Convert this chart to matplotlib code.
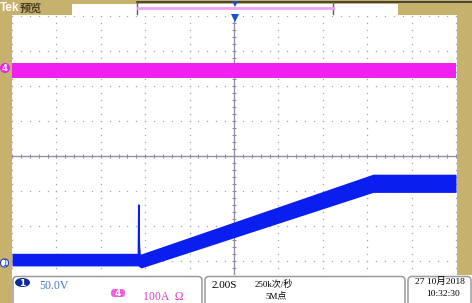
import numpy as np
import matplotlib.pyplot as plt
from matplotlib.patches import Rectangle, FancyBboxPatch, Ellipse

# ---- data (2 s/div, CH1 50 V/div, CH4 100 A/div) ----
ch1_t = [-10.0, -4.32, -4.19, 6.26, 10.0]      # s
ch1_v = [2.0, 2.0, 0.0, 111.0, 111.0]          # V (trace centre)
ch1_hw = [9.0, 9.0, 10.0, 13.0, 13.0]          # V (noise half width)
spike_t = [-4.31, -4.29, -4.28, -4.26, -4.23, -4.19]
spike_v = [2.0, 80.0, 45.0, 22.0, 8.0, -4.0]

ch4_t = [-10.0, 10.0]                          # s
ch4_i = [-5.0, -5.0]                           # A
ch4_hw = [22.0, 22.0]

ch1_scale, ch1_pos = 50.0, -3.0                # V/div, div
ch4_scale, ch4_pos = 100.0, 2.5                # A/div, div

gold = "#c6b26c"
grid_c = "#a4a4b8"
blue = "#0a1ef0"
mag = "#f020f0"

W, H = 472, 303
fig = plt.figure(figsize=(W / 100, H / 100), dpi=100)
fig.patch.set_facecolor("white")

# graticule: x 12..456 px, y 16..296 px
ax = fig.add_axes([12 / W, (H - 296) / H, 444 / W, 280 / H])
ax.set_xlim(-10, 10)
ax.set_ylim(-4, 4)
ax.axis("off")

# dotted grid
for gx in np.arange(-10, 10.1, 2):
    if gx == 0:
        continue
    yy = np.arange(-4, 4.01, 0.2)
    ax.plot(np.full_like(yy, gx), yy, ls="none", marker="s", ms=0.9, color=grid_c, mew=0)
for gy in np.arange(-4, 4.1, 1):
    if gy == 0:
        continue
    xx = np.arange(-10, 10.01, 0.4)
    ax.plot(xx, np.full_like(xx, gy), ls="none", marker="s", ms=0.9, color=grid_c, mew=0)
ax.axhline(0, color="#8c8ca4", lw=0.9)
ax.axvline(0, color="#8c8ca4", lw=0.9)
xx = np.arange(-10, 10.01, 0.4)
ax.plot(xx, np.zeros_like(xx), ls="none", marker="|", ms=3, color="#8c8ca4", mew=0.8)
yy = np.arange(-4, 4.01, 0.2)
ax.plot(np.zeros_like(yy), yy, ls="none", marker="_", ms=3, color="#8c8ca4", mew=0.8)

# CH4 (magenta)
c4 = np.array(ch4_i) / ch4_scale + ch4_pos
h4 = np.array(ch4_hw) / ch4_scale
ax.fill_between(ch4_t, c4 - h4, c4 + h4, color=mag, lw=0, zorder=3)

# CH1 (blue)
c1 = np.array(ch1_v) / ch1_scale + ch1_pos
h1 = np.array(ch1_hw) / ch1_scale
ax.fill_between(ch1_t, c1 - h1, c1 + h1, color=blue, lw=0, zorder=4)
ax.plot(spike_t, np.array(spike_v) / ch1_scale + ch1_pos, color=blue, lw=1.1, zorder=4)

# ---- frame / readouts in pixel coordinates ----
ov = fig.add_axes([0, 0, 1, 1])
ov.set_xlim(0, W)
ov.set_ylim(H, 0)
ov.axis("off")
ov.patch.set_alpha(0)

ov.add_patch(Rectangle((0, 0), 12, H, color=gold, lw=0))
ov.add_patch(Rectangle((0, 0), W, 15, color=gold, lw=0))
ov.add_patch(Rectangle((457, 0), 15, 275, color=gold, lw=0))
ov.add_patch(Rectangle((72, 4), 326, 10.5, color="white", lw=0))
ov.plot([137, W], [1.5, 1.5], color="#303030", lw=1.2)
ov.plot([137, 137], [1.5, 14], color="#606060", lw=1)
ov.plot([333, 333], [1.5, 14], color="#606060", lw=1)
ov.plot([138, 333], [8, 8], color="#f4a0f4", lw=2)
ov.plot([235], [4], marker="v", ms=4, color="#1a50d0", mew=0)
ov.plot([235], [17.5], marker="v", ms=6, color="#1a50d0", mew=0)

ov.text(0, 8, "Tek", color="white", fontsize=8.5, va="center", ha="left",
        family="Liberation Sans", weight="bold")
ov.text(20, 8, "预览", color="#4a3e20", fontsize=8, va="center", ha="left",
        family=["Noto Sans CJK SC", "DejaVu Sans"], weight="bold")

# channel markers
ov.add_patch(Ellipse((5, 68), 10, 10, color=mag, lw=0))
ov.text(5, 68.5, "4", color="white", fontsize=6, ha="center", va="center", weight="bold")
ov.add_patch(FancyBboxPatch((0.5, 259), 8, 8, boxstyle="round,pad=0,rounding_size=4",
                            fc="white", ec="#2040c0", lw=0.8))
ov.text(4.5, 263.5, "1", color="#2040c0", fontsize=6, ha="center", va="center")

# bottom readout panel
ov.add_patch(Rectangle((12, 275), W - 12, H - 275, color="white", lw=0))
for x0, x1 in [(13, 202), (205, 405), (408, 471)]:
    ov.add_patch(FancyBboxPatch((x0, 276.5), x1 - x0, 30, boxstyle="round,pad=0,rounding_size=4",
                                fc="white", ec="#9a9a9a", lw=1.1))
ov.add_patch(Ellipse((22.5, 282.5), 15, 9, color="#0c2a9a", lw=0))
ov.text(22.5, 283, "1", color="white", fontsize=6.5, ha="center", va="center", weight="bold")
ov.text(39, 286, "50.0V", color="#4a78c8", fontsize=8.5, va="center", family="Liberation Serif")
ov.add_patch(FancyBboxPatch((111, 289), 14, 8, boxstyle="round,pad=0,rounding_size=3.5",
                            fc="#f060e0", ec="none"))
ov.text(118, 293.2, "4", color="white", fontsize=6.5, ha="center", va="center", weight="bold")
ov.text(143, 297.5, "100A  Ω", color="#e040c8", fontsize=8.5, va="center", family="Liberation Serif")
ov.text(212, 286, "2.00S", color="black", fontsize=8, va="center", family="Liberation Serif")
cjk = ["Liberation Serif", "Noto Sans CJK SC"]
ov.text(255, 284, "250k次/秒", color="black", fontsize=6.5, va="center", family=cjk)
ov.text(265, 296, "5M点", color="black", fontsize=6.5, va="center", family=cjk)
ov.text(415, 281.5, "27 10月2018", color="black", fontsize=6.8, va="center", family=cjk)
ov.text(426, 294.5, "10:32:30", color="black", fontsize=6.8, va="center", family=cjk)

fig.savefig("out.png", dpi=100, facecolor="white")
